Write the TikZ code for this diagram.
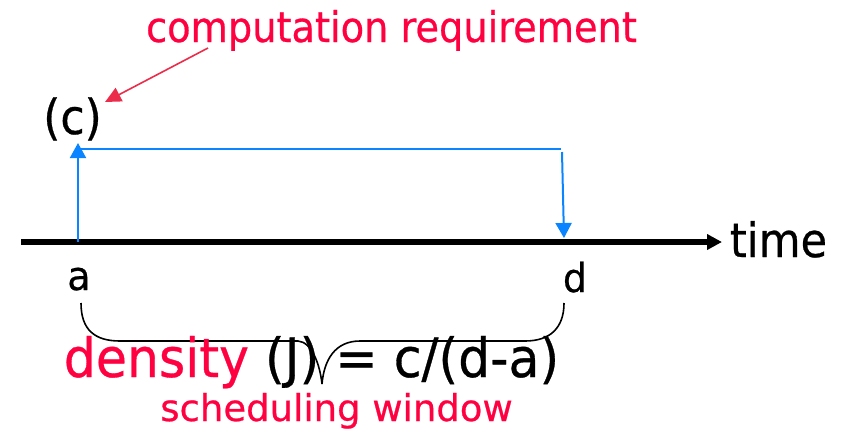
\documentclass[tikz,border=0pt]{standalone}
\usepackage{fontspec}
\setmainfont{DejaVu Sans}[FakeBold=0.6]
\usetikzlibrary{arrows.meta}
\definecolor{tred}{RGB}{255,0,64}
\definecolor{ared}{RGB}{235,45,75}
\definecolor{tblue}{RGB}{10,132,255}
\newcommand{\fs}[1]{\fontsize{#1}{#1}\selectfont}
\begin{document}
\begin{tikzpicture}[x=1pt,y=-1pt,
  lbl/.style={inner sep=0pt,outer sep=0pt,anchor=base},
  axisline/.style={line width=6pt,-{Triangle[length=15pt,width=15pt]}},
  bluearrow/.style={tblue,line width=2pt,-{Triangle[length=15pt,width=16pt]}},
  blueline/.style={tblue,line width=2pt},
  redarrow/.style={ared,line width=1.6pt,-{Triangle[length=16pt,width=15pt]}},
  bracepath/.style={black,line width=1.6pt}]
\useasboundingbox (0,0) rectangle (843,432);
% brace
\coordinate (bl) at (81,303);
\coordinate (br) at (564,303);
\coordinate (btip) at (322,384);
\draw[bracepath] (bl) .. controls (81,330) and (95,341) .. (120,341) -- (298,341)
   .. controls (312,342) and (320,365) .. (btip);
\draw[bracepath] (btip) .. controls (324,360) and (335,341) .. (360,341) -- (525,341)
   .. controls (550,341) and (564,328) .. (br);
% texts
\node[lbl,text=tred] (req) at (391.5,42) {\fs{38.3}\scalebox{1}[1.1]{computation requirement}};
\node[lbl] (c) at (72.5,134) {\fs{44}\scalebox{1}[1.1]{(c)}};
\node[lbl] (time) at (778.5,257) {\fs{43}\scalebox{1}[1.1]{time}};
\node[lbl] (a) at (79,290) {\fs{38}\scalebox{1}[1.05]{a}};
\node[lbl] (d) at (575,292) {\fs{38}\scalebox{1}[1.05]{d}};
\node[lbl] (dens) at (311.5,377) {\fs{50.5}\scalebox{1}[1.07]{\textcolor{tred}{density} (J) = c/(d-a)}};
\node[lbl,text=tred] (sw) at (336.5,421) {\fs{37}scheduling window};
% axis
\coordinate (ax0) at (21,242);
\coordinate (ax1) at (722,242);
\draw[axisline] (ax0) -- (ax1);
% blue arrows
\coordinate (upfoot) at (78,242);
\coordinate (uptip) at (78,143);
\coordinate (hl0) at (78,149);
\coordinate (hl1) at (561,149);
\coordinate (dn0) at (562,152);
\coordinate (dntip) at (564,238);
\draw[bluearrow] (upfoot) -- (uptip);
\draw[blueline] (hl0) -- (hl1);
\draw[bluearrow] (dn0) -- (dntip);
% red arrow
\coordinate (r0) at (208,48);
\coordinate (r1) at (105,102);
\draw[redarrow] (r0) -- (r1);
\end{tikzpicture}
\end{document}
